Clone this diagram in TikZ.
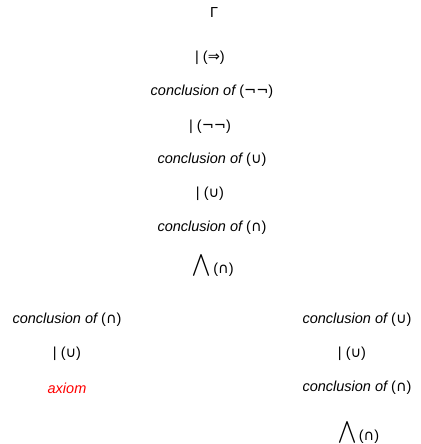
\documentclass[tikz,border=0pt]{standalone}
\usepackage{graphicx}
\usepackage{fontspec}
\setmainfont{Liberation Sans}[ItalicFont={Liberation Sans Italic}]
\newfontfamily\symfont{DejaVu Sans}
\newcommand{\sy}[1]{{\symfont #1}}
\newcommand{\bigw}{\resizebox*{18pt}{25pt}{$\displaystyle\bigwedge$}}
\begin{document}
\begin{tikzpicture}[x=1pt,y=-1pt,
  lbl/.style={inner sep=0pt,font=\fontsize{14.5}{17}\selectfont},
  ax/.style={lbl,text=red}]
\useasboundingbox (0,0) rectangle (420,444);
\node[lbl] (g) at (214,12.5) {Γ};
\node[lbl] (a1) at (210,58) {| (\sy{⇒})};
\node[lbl] (a2) at (212,92) {\itshape conclusion of \upshape(\sy{¬¬})};
\node[lbl] (a3) at (210,127) {| (\sy{¬¬})};
\node[lbl] (a4) at (212,160) {\itshape conclusion of \upshape(\sy{∪})};
\node[lbl] (a5) at (210,194) {| (\sy{∪})};
\node[lbl] (a6) at (212,228) {\itshape conclusion of \upshape(\sy{∩})};
\node[lbl] (a7w) at (201,265.5) {\bigw};
\node[lbl] (a7) at (223.5,270) {(\sy{∩})};
\node[lbl] (l1) at (67,320) {\itshape conclusion of \upshape(\sy{∩})};
\node[lbl] (l2) at (67,354) {| (\sy{∪})};
\node[ax] (l3) at (67,388) {\itshape axiom};
\node[lbl] (r1) at (357,320) {\itshape conclusion of \upshape(\sy{∪})};
\node[lbl] (r2) at (352,354) {| (\sy{∪})};
\node[lbl] (r3) at (357,388) {\itshape conclusion of \upshape(\sy{∩})};
\node[lbl] (r4w) at (347,432) {\bigw};
\node[lbl] (r4) at (369,436.5) {(\sy{∩})};
\end{tikzpicture}
\end{document}
